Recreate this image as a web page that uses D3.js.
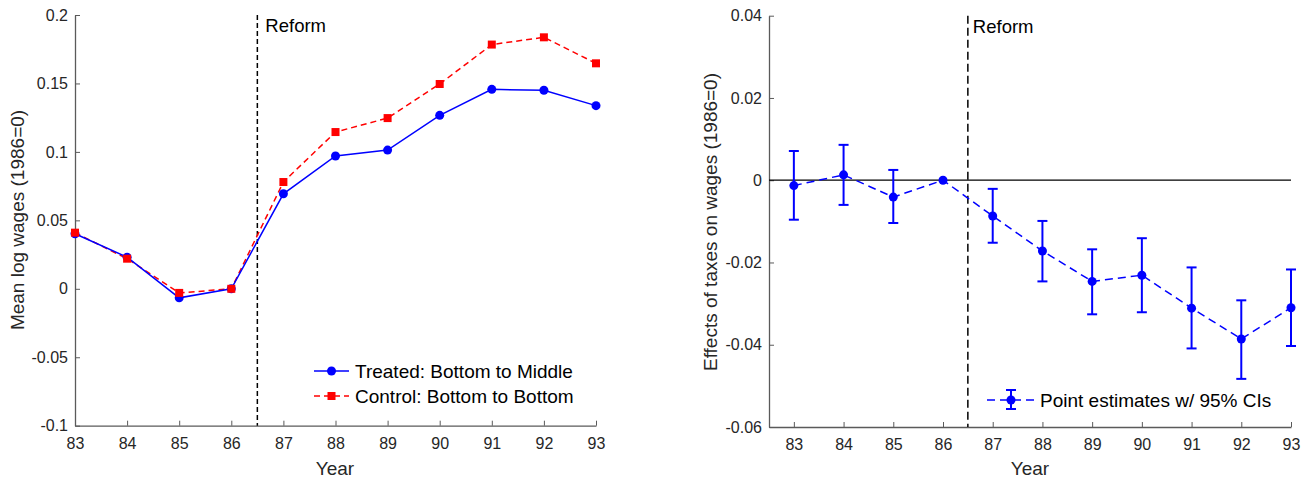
<!DOCTYPE html>
<html><head><meta charset="utf-8">
<script src="https://cdn.jsdelivr.net/npm/d3@7"></script>
<style>body{margin:0;background:#fff}svg{display:block}text{font-family:"Liberation Sans",Arial,sans-serif}</style>
</head><body><svg id="c" width="1311" height="479"></svg>
<script>
const years = [83,84,85,86,87,88,89,90,91,92,93];
const treated = [0.0402,0.0231,-0.0066,0,0.0694,0.097,0.1013,0.1267,0.1457,0.145,0.1338];
const control = [0.041,0.022,-0.003,0,0.078,0.1145,0.1247,0.1496,0.1784,0.1837,0.1647];
const leftYTicks = [-0.1,-0.05,0,0.05,0.1,0.15,0.2];
const leftYLabels = ["-0.1","-0.05","0","0.05","0.1","0.15","0.2"];
const estimate = [-0.0013,0.0013,-0.0041,0,-0.0087,-0.0172,-0.0246,-0.0231,-0.0311,-0.0386,-0.031];
const ciUpper = [0.0071,0.0086,0.0025,null,-0.0021,-0.0099,-0.0168,-0.0141,-0.0212,-0.0292,-0.0217];
const ciLower = [-0.0096,-0.006,-0.0104,null,-0.0152,-0.0246,-0.0326,-0.0321,-0.0409,-0.0483,-0.0403];
const rightYTicks = [-0.06,-0.04,-0.02,0,0.02,0.04];
const rightYLabels = ["-0.06","-0.04","-0.02","0","0.02","0.04"];
const reformYear = 86.5;

const svg = d3.select("#c");
const axisCol = "#5a5a5a", textCol = "#262626";

function styleAxis(g){
  g.selectAll("path.domain").attr("stroke",axisCol).attr("stroke-width",1.3);
  g.selectAll(".tick line").attr("stroke",axisCol).attr("stroke-width",1);
  g.selectAll(".tick text").attr("fill",textCol).style("font-size","16px").style("font-family","'Liberation Sans',Arial,sans-serif");
}

// ---------- LEFT ----------
const xL = d3.scaleLinear().domain([83,93]).range([75,596]);
const yL = d3.scaleLinear().domain([-0.1,0.2]).range([425.7,15]);
const gL = svg.append("g");
const axL = gL.append("g").attr("transform","translate(0,425.7)")
  .call(d3.axisBottom(xL).tickValues(years).tickSize(-5).tickPadding(12).tickSizeOuter(0).tickFormat(d3.format("d")));
styleAxis(axL);
const ayL = gL.append("g").attr("transform","translate(75,0)")
  .call(d3.axisLeft(yL).tickValues(leftYTicks).tickSize(-5).tickPadding(7).tickSizeOuter(0).tickFormat((d,i)=>leftYLabels[i]));
styleAxis(ayL);
gL.append("text").attr("x",335).attr("y",475).attr("text-anchor","middle").attr("fill",textCol).style("font-size","19px").text("Year");
gL.append("text").attr("transform","translate(24,220) rotate(-90)").attr("text-anchor","middle").attr("fill",textCol).style("font-size","19px").text("Mean log wages (1986=0)");

gL.append("line").attr("x1",xL(reformYear)).attr("x2",xL(reformYear)).attr("y1",yL(0.2)).attr("y2",yL(-0.1))
  .attr("stroke","#000").attr("stroke-width",1.5).attr("stroke-dasharray","5,3");
gL.append("text").attr("x",xL(reformYear)+8).attr("y",32).attr("fill","#000").style("font-size","18.5px").text("Reform");

const lineL = (vals)=>d3.line().x((d,i)=>xL(years[i])).y(d=>yL(d))(vals);
gL.append("path").attr("d",lineL(control)).attr("fill","none").attr("stroke","#ff0000").attr("stroke-width",1.5).attr("stroke-dasharray","6,4");
gL.append("path").attr("d",lineL(treated)).attr("fill","none").attr("stroke","#0000ff").attr("stroke-width",1.5);
gL.selectAll("circle.t").data(treated).join("circle").attr("cx",(d,i)=>xL(years[i])).attr("cy",d=>yL(d)).attr("r",4.5).attr("fill","#0000ff");
gL.selectAll("rect.c").data(control).join("rect").attr("x",(d,i)=>xL(years[i])-4).attr("y",d=>yL(d)-4).attr("width",8).attr("height",8).attr("fill","#ff0000");

// legend left
const lg = gL.append("g");
lg.append("line").attr("x1",314).attr("x2",349).attr("y1",371).attr("y2",371).attr("stroke","#0000ff").attr("stroke-width",1.5);
lg.append("circle").attr("cx",331.5).attr("cy",371).attr("r",4.5).attr("fill","#0000ff");
lg.append("text").attr("x",355).attr("y",377.5).attr("fill","#000").style("font-size","19px").text("Treated: Bottom to Middle");
lg.append("line").attr("x1",314).attr("x2",349).attr("y1",396).attr("y2",396).attr("stroke","#ff0000").attr("stroke-width",1.5).attr("stroke-dasharray","6,4");
lg.append("rect").attr("x",327.5).attr("y",392).attr("width",8).attr("height",8).attr("fill","#ff0000");
lg.append("text").attr("x",355).attr("y",402.5).attr("fill","#000").style("font-size","19px").text("Control: Bottom to Bottom");

// ---------- RIGHT ----------
const xR = d3.scaleLinear().domain([82.5,93]).range([769,1291]);
const yR = d3.scaleLinear().domain([-0.06,0.04]).range([427,15.7]);
const gR = svg.append("g");
const axR = gR.append("g").attr("transform","translate(0,427)")
  .call(d3.axisBottom(xR).tickValues(years).tickSize(-5).tickPadding(12).tickSizeOuter(0).tickFormat(d3.format("d")));
styleAxis(axR);
const ayR = gR.append("g").attr("transform","translate(769,0)")
  .call(d3.axisLeft(yR).tickValues(rightYTicks).tickSize(-5).tickPadding(7).tickSizeOuter(0).tickFormat((d,i)=>rightYLabels[i]));
styleAxis(ayR);
gR.append("text").attr("x",1030).attr("y",475).attr("text-anchor","middle").attr("fill",textCol).style("font-size","19px").text("Year");
gR.append("text").attr("transform","translate(717,222) rotate(-90)").attr("text-anchor","middle").attr("fill",textCol).style("font-size","19px").text("Effects of taxes on wages (1986=0)");

gR.append("line").attr("x1",769).attr("x2",1291).attr("y1",yR(0)).attr("y2",yR(0)).attr("stroke","#000").attr("stroke-width",1.2);
gR.append("line").attr("x1",xR(reformYear)).attr("x2",xR(reformYear)).attr("y1",yR(0.04)).attr("y2",yR(-0.06))
  .attr("stroke","#000").attr("stroke-width",1.5).attr("stroke-dasharray","8,4");
gR.append("text").attr("x",xR(reformYear)+5).attr("y",33).attr("fill","#000").style("font-size","18.5px").text("Reform");

gR.append("path").attr("d",d3.line().x((d,i)=>xR(years[i])).y(d=>yR(d))(estimate)).attr("fill","none").attr("stroke","#0000ff").attr("stroke-width",1.5).attr("stroke-dasharray","8,5");
const eb = gR.append("g").attr("stroke","#0000ff").attr("stroke-width",2);
years.forEach((yr,i)=>{
  if(ciUpper[i]===null) return;
  const x = xR(yr);
  eb.append("line").attr("x1",x).attr("x2",x).attr("y1",yR(ciUpper[i])).attr("y2",yR(ciLower[i]));
  eb.append("line").attr("x1",x-5).attr("x2",x+5).attr("y1",yR(ciUpper[i])).attr("y2",yR(ciUpper[i]));
  eb.append("line").attr("x1",x-5).attr("x2",x+5).attr("y1",yR(ciLower[i])).attr("y2",yR(ciLower[i]));
});
gR.selectAll("circle.e").data(estimate).join("circle").attr("cx",(d,i)=>xR(years[i])).attr("cy",d=>yR(d)).attr("r",4.5).attr("fill","#0000ff");

// legend right
const lr = gR.append("g");
lr.append("line").attr("x1",987).attr("x2",1036).attr("y1",400).attr("y2",400).attr("stroke","#0000ff").attr("stroke-width",1.5).attr("stroke-dasharray","8,5");
lr.append("line").attr("x1",1011).attr("x2",1011).attr("y1",390).attr("y2",409).attr("stroke","#0000ff").attr("stroke-width",2);
lr.append("line").attr("x1",1006).attr("x2",1016).attr("y1",390).attr("y2",390).attr("stroke","#0000ff").attr("stroke-width",2);
lr.append("line").attr("x1",1006).attr("x2",1016).attr("y1",409).attr("y2",409).attr("stroke","#0000ff").attr("stroke-width",2);
lr.append("circle").attr("cx",1011).attr("cy",400).attr("r",4.5).attr("fill","#0000ff");
lr.append("text").attr("x",1040).attr("y",406.5).attr("fill","#000").style("font-size","19px").text("Point estimates w/ 95% CIs");
</script></body></html>
